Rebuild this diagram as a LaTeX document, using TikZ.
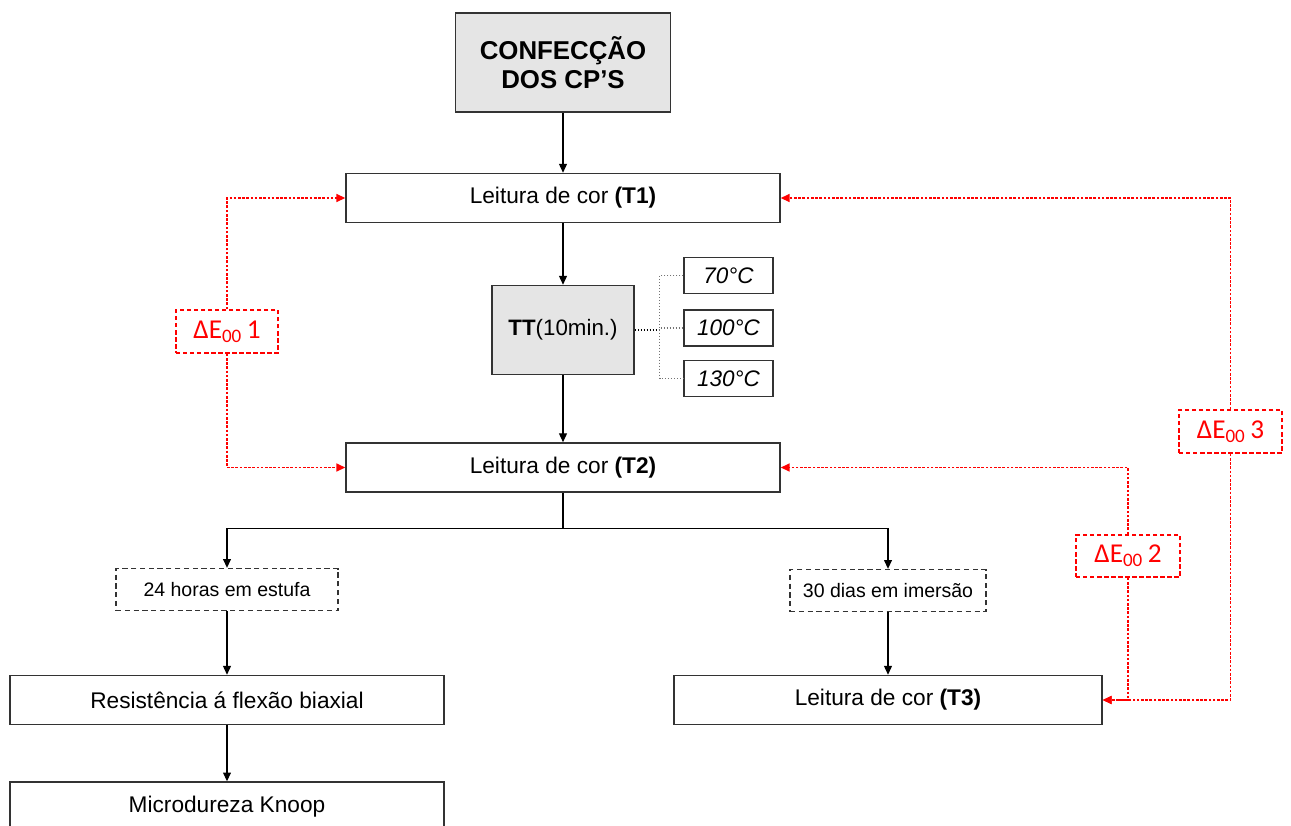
\documentclass[tikz,border=0pt]{standalone}
\usepackage{fontspec}
\setmainfont{Liberation Sans}
\newfontfamily\defont{Carlito}
\usetikzlibrary{arrows.meta,positioning}
\tikzstyle{arrow}=[
  draw=black,
  line width=0.6pt,
  -{Triangle[length=5pt,width=4.5pt]},
]
\tikzset{
  box/.style={draw=black!80, line width=0.9pt, minimum width=8.68cm,
    minimum height=0.98cm, inner sep=2pt, font=\fontsize{12.9}{15}\selectfont},
  graybox/.style={box, fill=black!10},
  stagebox/.style={draw=black!80, line width=0.8pt, dash pattern=on 3pt off 2pt,
    minimum height=0.84cm, font=\fontsize{11.1}{13}\selectfont},
  tempbox/.style={draw=black!80, line width=0.8pt, minimum width=1.78cm,
    minimum height=0.72cm, font=\fontsize{12.8}{15}\selectfont\itshape},
  debox/.style={draw=red, line width=0.8pt, dash pattern=on 2.5pt off 1.5pt,
    text=red, minimum width=2.06cm, minimum height=0.86cm,
    font=\defont\fontsize{15.5}{18}\selectfont},
  redline/.style={draw=red, line width=0.8pt,
    dash pattern=on 1.5pt off 0.9pt, -{Triangle[length=5pt,width=4.5pt]}},
  bracket/.style={draw=black!55, line width=0.7pt, densely dotted},
}

\begin{document}
\begin{tikzpicture}[x=0.02cm, y=-0.02cm]
  \clip (0,0) rectangle (1291,825);
  % main column
  \node[graybox, minimum width=4.3cm, minimum height=1.98cm, align=center,
    font=\fontsize{14.7}{16.4}\selectfont\bfseries] (cp) at (563,62.5)
    {CONFECÇÃO\\DOS CP’S};
  \node[box] (t1) at (563,198) {Leitura de cor \textbf{(T1)}};
  \node[graybox, minimum width=2.84cm, minimum height=1.78cm,
    font=\fontsize{12.7}{15}\selectfont] (tt) at (563,330)
    {\textbf{TT}(10min.)};
  \node[tempbox] (t100) at (728.5,328) {100°C};
  \node[tempbox, above=0.3cm of t100] (t70) {70°C};
  \node[tempbox, below=0.26cm of t100] (t130) {130°C};
  \node[box] (t2) at (563,467.5) {Leitura de cor \textbf{(T2)}};
  % branches
  \node[stagebox, minimum width=4.44cm] (h24) at (227,589.5) {24 horas em estufa};
  \node[stagebox, minimum width=3.92cm] (d30) at (888,590.5) {30 dias em imersão};
  \node[box] (rfb) at (227,700) {Resistência á flexão biaxial};
  \node[box, below=1.12cm of rfb] (mk) {Microdureza Knoop};
  \node[box, minimum width=8.56cm] (t3) at (888,700) {Leitura de cor \textbf{(T3)}};
  % color differences
  \node[debox, minimum width=2.04cm] (de1) at (227,331.5) {ΔE\textsubscript{00}\,1};
  \node[debox, minimum width=2.08cm, minimum height=0.84cm] (de2) at (1128,556)
    {ΔE\textsubscript{00}\,2};
  \node[debox] (de3) at (1230.5,431.5) {ΔE\textsubscript{00}\,3};

  \draw[arrow] (cp) -- (t1);
  \draw[arrow] (t1) -- (tt);
  \draw[arrow] (tt) -- (t2);
  \draw[line width=0.6pt] (t2.south) -- ++(0,36) coordinate (split);
  \draw[arrow] (split) -| (h24.north);
  \draw[arrow] (split) -| (d30.north);
  \draw[arrow] (h24) -- (rfb);
  \draw[arrow] (rfb) -- (mk);
  \draw[arrow] (d30) -- (t3);

  \draw[line width=0.7pt, densely dotted] (tt.east) -- ++(25,0) coordinate (br);
  \draw[bracket] (t70.west) -| (br) |- (t130.west);
  \draw[bracket] (br) -- (t100.west -| br) -- (t100.west);

  \draw[redline] (de1.north) |- (t1.west);
  \draw[redline] (de1.south) |- (t2.west);
  \draw[redline] (de2.north) |- (t2.east);
  \draw[redline] (de2.south) |- (t3.east);
  \draw[redline] (de3.north) |- (t1.east);
  \draw[redline] (de3.south) |- (t3.east);
\end{tikzpicture}
\end{document}
